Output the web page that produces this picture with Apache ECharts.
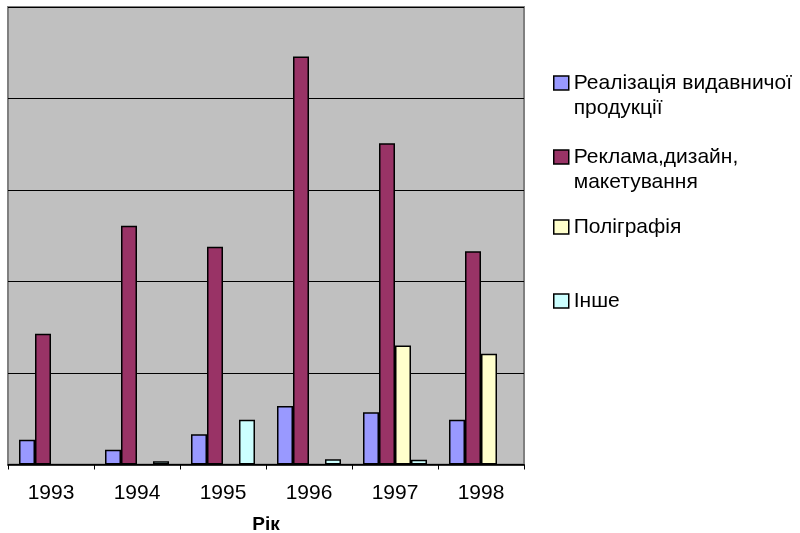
<!DOCTYPE html>
<html>
<head>
<meta charset="utf-8">
<script src="https://cdn.jsdelivr.net/npm/echarts@6/dist/echarts.min.js"></script>
<style>
  html, body { margin: 0; padding: 0; background: #fff; }
  #chart { width: 800px; height: 533px; }
</style>
</head>
<body>
<div id="chart"></div>
<script>
const roky = ['1993', '1994', '1995', '1996', '1997', '1998'];

const realizacia = [2.7, 1.6, 3.3, 6.4, 5.7, 4.9];
const reklama = [14.3, 26.1, 23.8, 44.6, 35.1, 23.3];
const poligrafia = ['-', '-', '-', '-', 13.0, 12.1];
const inshe = ['-', 0.35, 4.9, 0.57, 0.52, '-'];

const nazvy = ['Реалізація видавничої\nпродукції', 'Реклама,дизайн,\nмакетування', 'Поліграфія', 'Інше'];
const kolory = ['#9999ff', '#993366', '#ffffcc', '#ccffff'];

const chartDom = document.getElementById('chart');
const myChart = echarts.init(chartDom);

const shrift = 'Liberation Sans, Arial, sans-serif';
const lh = 25;

// окрема легенда для кожного пункту, щоб значок стояв біля першого рядка
function legenda(name, centerY, dvaRyadky) {
  return {
    data: [name],
    orient: 'vertical',
    left: 553,
    top: dvaRyadky ? centerY - lh * 1.5 : centerY - lh / 2,
    padding: 0,
    icon: 'rect',
    itemWidth: 15,
    itemHeight: 14,
    itemGap: 0,
    selectedMode: false,
    // порожній рядок зверху, щоб перший рядок тексту був на рівні значка
    formatter: dvaRyadky ? '\n{name}' : '{name}',
    itemStyle: { borderColor: '#000', borderWidth: 1.5 },
    textStyle: {
      fontFamily: shrift,
      fontSize: 21,
      color: '#000',
      lineHeight: lh
    }
  };
}

const dani = [realizacia, reklama, poligrafia, inshe];
const series = dani.map((vals, i) => ({
  name: nazvy[i],
  type: 'bar',
  data: vals,
  barWidth: 16,
  barGap: 0,
  itemStyle: {
    color: kolory[i],
    borderColor: '#000',
    borderWidth: 1.5
  }
}));

const option = {
  animation: false,
  legend: [
    legenda(nazvy[0], 83, true),
    legenda(nazvy[1], 157, true),
    legenda(nazvy[2], 227, false),
    legenda(nazvy[3], 301, false)
  ],
  grid: {
    left: 8,
    right: 276,
    top: 7,
    bottom: 68.5,
    outerBoundsMode: 'none',
    containLabel: false,
    show: true,
    backgroundColor: '#c0c0c0',
    borderColor: '#808080',
    borderWidth: 2
  },
  xAxis: {
    type: 'category',
    data: roky,
    name: 'Рік',
    nameLocation: 'middle',
    nameGap: 51,
    nameTextStyle: { fontFamily: shrift, fontSize: 19, fontWeight: 'bold', color: '#000' },
    axisLine: { show: true, lineStyle: { color: '#000', width: 1.5 } },
    axisTick: { show: true, length: 5, lineStyle: { color: '#000' } },
    axisLabel: { fontFamily: shrift, fontSize: 21, color: '#000', margin: 18 }
  },
  yAxis: {
    type: 'value',
    min: 0,
    max: 50,
    interval: 10,
    axisLabel: { show: false },
    axisLine: { show: false },
    axisTick: { show: false },
    splitLine: { lineStyle: { color: '#000', width: 1 } }
  },
  series: series
};

myChart.setOption(option);
</script>
</body>
</html>
